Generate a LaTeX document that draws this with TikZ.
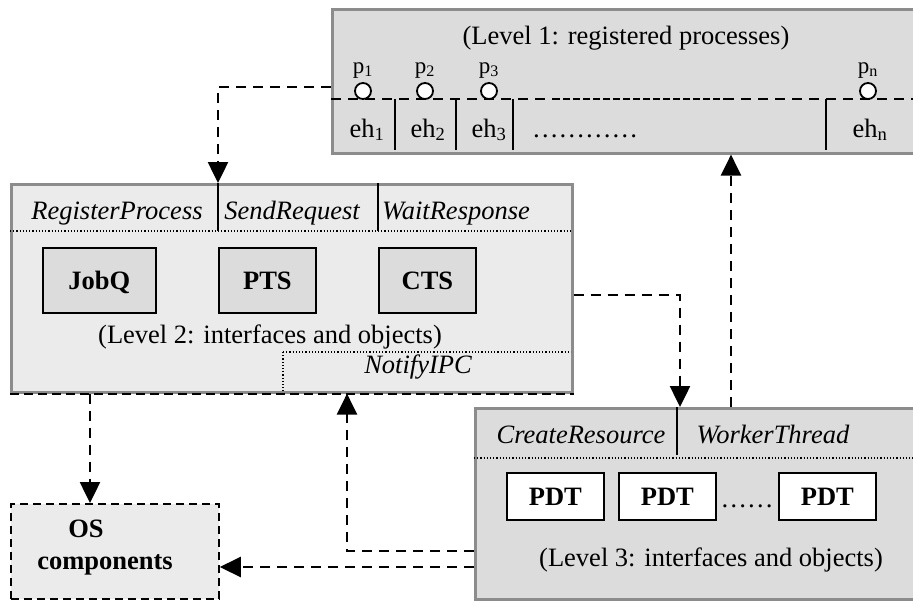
\documentclass[tikz,border=0pt]{standalone}
\usepackage{fontspec}
\setmainfont{Liberation Serif}
\usetikzlibrary{arrows.meta}
\definecolor{frame}{HTML}{8C8C8C}
\definecolor{panel}{HTML}{DCDCDC}
\definecolor{panellight}{HTML}{EBEBEB}
\tikzset{
  x=1pt, y=-1pt,
  txt/.style={inner sep=0pt, anchor=base, font=\fontsize{26.5}{30}\selectfont},
  itxt/.style={txt, font=\fontsize{26.5}{30}\selectfont\itshape},
  small/.style={inner sep=0pt, anchor=base, font=\fontsize{23}{26}\selectfont},
  level/.style={draw=frame, line width=2.6pt, fill=panel, inner sep=0pt, anchor=north west},
  obj/.style={draw=black, line width=1.8pt, fill=panel, inner sep=0pt, anchor=north west,
    text height=17.5pt, text depth=0pt, font=\fontsize{26.5}{30}\selectfont\bfseries},
  sep/.style={draw=black, line width=2pt},
  dotline/.style={draw=black, line width=1.2pt, dash pattern=on 1.2pt off 2pt},
  dashline/.style={draw=black, line width=2pt, dash pattern=on 10pt off 7pt},
  flow/.style={draw=black, line width=2.5pt, dash pattern=on 10pt off 7pt,
    -{Triangle[width=20pt,length=21pt]}},
  port/.style={circle, draw=black, fill=white, line width=1.8pt, minimum size=16pt, inner sep=0pt},
}
\begin{document}
\begin{tikzpicture}
\useasboundingbox (0,0) rectangle (913,600);
\clip (0,0) rectangle (913,600);

% ---------- Level 1: registered processes ----------
\node[level, minimum width=640pt, minimum height=144pt] (L1) at (331,8) {};
\node[txt] (t1) at (626,44) {(Level 1: registered processes)};
\draw[dashline] (331,99) -- (553,99);
\draw[dashline, dash pattern=on 7pt off 3pt] (553,99) -- (724,99);
\draw[dashline] (724,99) -- (913,99);
\foreach \xx/\lab/\nm in {363/1/1, 425/2/2, 489/3/3, 868/n/n} {
  \node[port] (c\nm) at (\xx,91) {};
  \node[small] (p\nm) at (\xx,73) {p\textsubscript{\lab}};
}
\foreach \xx in {395,456,513,826} \draw[sep] (\xx,99) -- (\xx,150);
\node[txt] (e1) at (367,137) {eh\textsubscript{1}};
\node[txt] (e2) at (428,137) {eh\textsubscript{2}};
\node[txt] (e3) at (489,137) {eh\textsubscript{3}};
\node[txt] (edots) at (585,137) {…………};
\node[txt] (en) at (870,137) {eh\textsubscript{n}};

% ---------- Level 2: interfaces and objects ----------
\node[level, fill=panellight, minimum width=561pt, minimum height=208pt] (L2) at (10,183) {};
\draw[sep] (218,183) -- (218,231);
\draw[sep] (378,183) -- (378,231);
\draw[dotline] (10,231) -- (571,231);
\node[itxt] (h1) at (117,219) {RegisterProcess};
\node[itxt] (h2) at (292,219) {SendRequest};
\node[itxt] (h3) at (456,219) {WaitResponse};
\node[obj, minimum width=113pt, minimum height=65pt] (jobq) at (42,247) {JobQ};
\node[obj, minimum width=97pt, minimum height=65pt] (pts) at (218,247) {PTS};
\node[obj, minimum width=97pt, minimum height=65pt] (cts) at (378,247) {CTS};
\node[txt] (t2) at (270,343) {(Level 2: interfaces and objects)};
\draw[dotline] (283,352) -- (571,352);
\draw[dotline] (283,352) -- (283,391);
\node[itxt] (h4) at (418,373) {NotifyIPC};
\draw[black, line width=2pt, dash pattern=on 9pt off 5pt] (L2.south west) -- (L2.south east);

% ---------- Level 3: interfaces and objects ----------
\node[level, minimum width=500pt, minimum height=191pt] (L3) at (474,407) {};
\draw[sep] (677,407) -- (677,455);
\draw[dotline] (474,458) -- (913,458);
\node[itxt] (h5) at (581,443) {CreateResource};
\node[itxt] (h6) at (773,443) {WorkerThread};
\node[obj, fill=white, minimum width=97pt, minimum height=47pt] (d1) at (506,472) {PDT};
\node[obj, fill=white, minimum width=97pt, minimum height=47pt] (d2) at (618,472) {PDT};
\node[obj, fill=white, minimum width=97pt, minimum height=47pt] (d3) at (778,472) {PDT};
\node[txt] (ddots) at (747,507) {……};
\node[txt] (t3) at (711,566) {(Level 3: interfaces and objects)};

% ---------- OS components ----------
\node[draw=black, fill=panellight, line width=1.8pt, dash pattern=on 8pt off 5pt,
  inner sep=0pt, anchor=north west, minimum width=208pt, minimum height=95pt] (OS) at (10,503) {};
\node[txt, font=\fontsize{26.5}{30}\selectfont\bfseries] (os1) at (86,537) {OS};
\node[txt, font=\fontsize{26.5}{30}\selectfont\bfseries] (os2) at (105,569) {components};

% ---------- connectors ----------
\coordinate (k1) at (218,87);
\draw[flow] (L1.west |- k1) -- (k1) -- (k1 |- L2.north);
\coordinate (k2) at (90,0);
\draw[flow] (L2.south -| k2) -- (OS.north -| k2);
\coordinate (k3) at (680,295);
\draw[flow] (L2.east |- k3) -- (k3) -- (k3 |- L3.north);
\coordinate (k4) at (731,0);
\draw[flow] (L3.north -| k4) -- (L1.south -| k4);
\coordinate (k5) at (347,551);
\draw[flow] (L3.west |- k5) -- (k5) -- (k5 |- L2.south);
\coordinate (k6) at (0,567);
\draw[flow] (L3.west |- k6) -- (OS.east |- k6);
\end{tikzpicture}
\end{document}
